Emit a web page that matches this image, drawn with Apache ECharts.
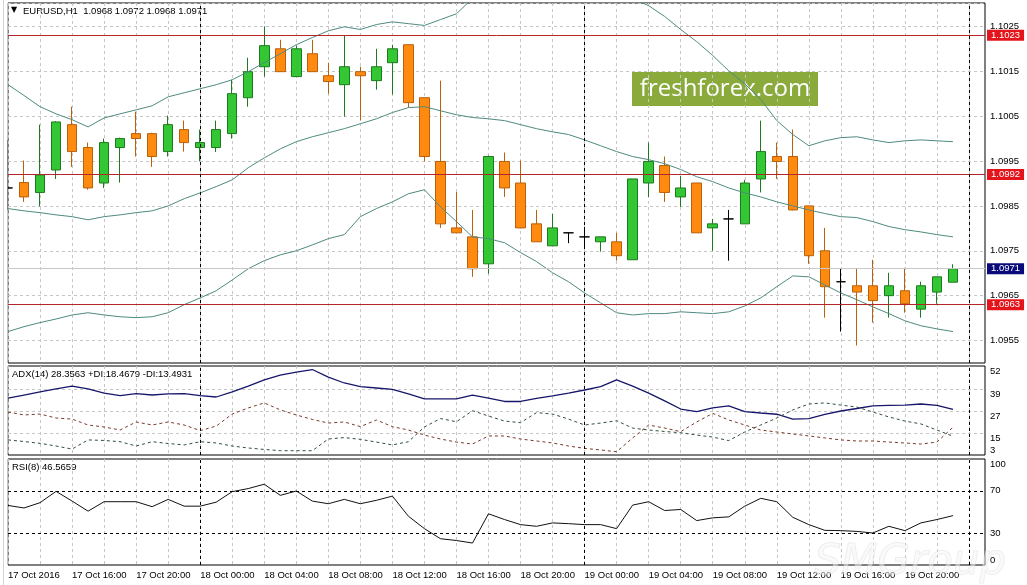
<!DOCTYPE html>
<html><head><meta charset="utf-8">
<script src="https://cdn.jsdelivr.net/npm/echarts@6/dist/echarts.min.js"></script>
<style>html,body{margin:0;padding:0;background:#fff}#c{width:1027px;height:585px}</style>
</head><body><div id="c"></div>
<script>
// ---- categories / tick labels ----
const tickLabels = ['17 Oct 2016','17 Oct 16:00','17 Oct 20:00','18 Oct 00:00','18 Oct 04:00','18 Oct 08:00','18 Oct 12:00','18 Oct 16:00','18 Oct 20:00','19 Oct 00:00','19 Oct 04:00','19 Oct 08:00','19 Oct 12:00','19 Oct 16:00','19 Oct 20:00'];
const categories = [];
for (let i = 0; i < 62; i++) { const h = 12 + i; categories.push((17 + Math.floor(h / 24)) + ' Oct ' + String(h % 24).padStart(2, '0') + ':00'); }
const daySeparators = [12, 36, 60];

// ---- EURUSD H1 candles ----
const opens  = [1.09890,1.09902,1.09880,1.09930,1.10031,1.09980,1.09901,1.09980,1.10011,1.10011,1.09971,1.10020,1.09980,1.09980,1.10011,1.10091,1.10160,1.10200,1.10138,1.10189,1.10140,1.10120,1.10149,1.10129,1.10169,1.10209,1.10091,1.09949,1.09801,1.09781,1.09721,1.09949,1.09901,1.09810,1.09761,1.09790,1.09781,1.09770,1.09770,1.09730,1.09901,1.09940,1.09870,1.09901,1.09801,1.09821,1.09810,1.09910,1.09960,1.09960,1.09850,1.09750,1.09681,1.09672,1.09672,1.09650,1.09661,1.09620,1.09658,1.09680];
const highs  = [1.09997,1.09951,1.10031,1.10039,1.10071,1.09991,1.10000,1.10002,1.10060,1.10013,1.10051,1.10040,1.10020,1.10040,1.10131,1.10180,1.10250,1.10220,1.10207,1.10220,1.10169,1.10230,1.10160,1.10200,1.10209,1.10210,1.10091,1.10129,1.09881,1.09841,1.09962,1.09969,1.09951,1.09841,1.09832,1.09790,1.09803,1.09781,1.09790,1.09910,1.09991,1.09960,1.09917,1.09901,1.09821,1.09841,1.09908,1.10040,1.09991,1.10020,1.09850,1.09801,1.09710,1.09710,1.09730,1.09701,1.09712,1.09681,1.09692,1.09720];
const lows   = [1.09841,1.09859,1.09849,1.09910,1.09937,1.09886,1.09890,1.09902,1.09960,1.09937,1.09960,1.09971,1.09949,1.09970,1.10000,1.10071,1.10138,1.10149,1.10138,1.10149,1.10100,1.10049,1.10040,1.10109,1.10098,1.10069,1.09949,1.09801,1.09790,1.09692,1.09699,1.09870,1.09800,1.09770,1.09760,1.09767,1.09757,1.09748,1.09728,1.09730,1.09870,1.09859,1.09848,1.09790,1.09750,1.09728,1.09810,1.09880,1.09910,1.09840,1.09721,1.09601,1.09570,1.09539,1.09590,1.09601,1.09612,1.09601,1.09632,1.09680];
const closes = [1.09890,1.09870,1.09919,1.10037,1.09971,1.09890,1.09991,1.10000,1.10000,1.09960,1.10031,1.09991,1.09991,1.10020,1.10100,1.10149,1.10207,1.10149,1.10200,1.10149,1.10127,1.10160,1.10140,1.10160,1.10200,1.10080,1.09960,1.09810,1.09790,1.09710,1.09960,1.09890,1.09801,1.09770,1.09801,1.09790,1.09781,1.09781,1.09739,1.09910,1.09949,1.09880,1.09890,1.09790,1.09810,1.09821,1.09901,1.09971,1.09949,1.09841,1.09739,1.09670,1.09681,1.09658,1.09639,1.09672,1.09632,1.09672,1.09692,1.09710];

// ---- Bollinger bands ----
const bbUpper  = [1.10120,1.10096,1.10071,1.10055,1.10042,1.10026,1.10046,1.10055,1.10064,1.10073,1.10093,1.10102,1.10111,1.10120,1.10131,1.10149,1.10169,1.10189,1.10209,1.10225,1.10240,1.10249,1.10243,1.10254,1.10260,1.10256,1.10252,1.10265,1.10278,1.10312,1.10312,1.10312,1.10316,1.10318,1.10330,1.10336,1.10339,1.10334,1.10330,1.10312,1.10296,1.10272,1.10243,1.10216,1.10185,1.10151,1.10122,1.10087,1.10040,1.10009,1.09984,1.09995,1.10002,1.10004,1.09997,1.09991,1.09995,1.09997,1.09995,1.09993];
const bbMiddle = [1.09844,1.09839,1.09835,1.09830,1.09826,1.09819,1.09826,1.09830,1.09835,1.09839,1.09850,1.09866,1.09879,1.09893,1.09908,1.09935,1.09957,1.09977,1.09993,1.10004,1.10013,1.10022,1.10033,1.10044,1.10058,1.10069,1.10071,1.10062,1.10053,1.10047,1.10044,1.10040,1.10031,1.10022,1.10015,1.10009,1.09997,1.09984,1.09971,1.09960,1.09953,1.09944,1.09931,1.09915,1.09904,1.09890,1.09879,1.09870,1.09859,1.09850,1.09841,1.09833,1.09826,1.09824,1.09815,1.09804,1.09797,1.09792,1.09786,1.09781];
const bbLower  = [1.09570,1.09581,1.09590,1.09598,1.09607,1.09612,1.09607,1.09603,1.09601,1.09603,1.09612,1.09630,1.09645,1.09661,1.09685,1.09710,1.09728,1.09741,1.09750,1.09763,1.09777,1.09786,1.09826,1.09844,1.09859,1.09877,1.09886,1.09848,1.09815,1.09781,1.09777,1.09768,1.09746,1.09726,1.09701,1.09681,1.09656,1.09634,1.09612,1.09607,1.09610,1.09610,1.09614,1.09612,1.09610,1.09614,1.09627,1.09645,1.09670,1.09694,1.09692,1.09674,1.09656,1.09641,1.09625,1.09610,1.09594,1.09583,1.09576,1.09570];

// ---- horizontal levels ----
const redLevels = [1.1023, 1.0992, 1.0963];
const bidPrice = 1.0971;

// ---- ADX(14) ----
const adx     = [34.7,36.4,38.1,39.8,41.4,39.8,37.5,36.1,37.2,36.4,37.0,37.2,36.1,35.3,38.1,41.4,44.8,47.5,49.2,50.6,46.4,43.1,41.1,40.3,39.5,37.0,34.2,34.2,34.2,36.4,34.7,32.8,32.8,34.5,35.9,37.5,39.2,41.1,44.8,41.4,37.5,33.1,28.6,27.2,29.2,30.3,27.2,26.4,25.7,23.0,23.3,25.6,27.5,28.9,30.3,30.6,30.8,31.4,30.6,28.36];
const plusDI  = [26.9,25.3,25.8,23.6,23.0,19.7,18.6,16.9,21.4,19.7,21.4,19.7,16.6,19.1,25.8,29.2,32.0,28.1,25.3,22.8,20.8,21.4,18.8,22.5,18.8,16.9,14.1,11.9,10.2,9.1,13.6,13.6,11.9,10.8,9.7,8.0,6.7,5.8,4.8,12.5,19.7,18.0,16.0,21.4,26.2,22.5,19.7,16.9,15.8,14.7,13.6,12.5,11.4,10.8,10.8,10.2,9.7,9.1,10.2,18.47];
const minusDI = [11.4,10.5,9.5,8.0,6.3,11.4,11.1,10.4,8.0,10.4,9.4,8.6,10.4,9.7,8.0,6.9,6.1,5.4,5.4,5.4,11.9,12.7,11.7,10.2,8.6,10.4,18.6,23.3,21.5,27.7,24.7,21.9,21.0,26.6,25.8,23.0,19.7,20.8,22.1,18.0,16.9,16.1,15.4,14.1,13.0,11.0,15.8,19.7,23.6,28.1,31.4,32.0,30.8,29.7,26.9,24.2,21.9,20.3,16.9,13.49];
const adxTicks = [3, 15, 27, 39, 52];

// ---- RSI(8) ----
const rsi = [56.2,53.8,58.8,69.5,60.3,50.8,59.7,59.7,59.7,55.0,61.9,55.5,55.5,59.3,69.2,72.1,76.2,65.7,69.8,60.3,57.8,61.9,57.8,61.0,65.0,46.0,34.3,24.8,23.1,20.7,48.3,42.9,38.1,36.5,39.7,39.0,38.1,38.1,34.3,56.5,59.7,51.4,52.4,41.9,44.5,45.4,55.5,62.9,59.7,45.0,38.1,32.7,32.4,31.7,30.2,36.5,32.4,39.7,42.9,46.57];
const rsiLevels = [30, 70];
const rsiTicks = [0, 30, 70, 100];

// ---------------------------------------------------------------
const FONT = 'Liberation Sans';
const GRID_C = '#c6c6c6';
const candleData = opens.map((o, i) => [o, closes[i], lows[i], highs[i]]);
const sepLines = daySeparators.map(i => ({ xAxis: categories[i] }));
const sepStyle = { color: '#000', type: [3, 3], width: 1 };
const levelLabel = (bg) => ({ show: true, position: 'end', distance: 2, formatter: p => Number(p.value).toFixed(4), color: '#fff', backgroundColor: bg,
  padding: [1, 4, 0, 4], fontSize: 9.5, fontFamily: FONT });

function xAx(g, showLabel) {
  return { type: 'category', gridIndex: g, data: categories, boundaryGap: false,
    axisLine: { show: false }, axisTick: { show: false },
    axisLabel: { show: showLabel, interval: 3, align: 'left', margin: 5, color: '#000', fontSize: 9.5, fontFamily: FONT,
      formatter: (v, idx) => (idx % 4 === 0 && tickLabels[idx / 4]) ? tickLabels[idx / 4] : '' },
    splitLine: { show: true, interval: 1, lineStyle: { color: GRID_C, type: [3, 3], width: 1 } } };
}

const chart = echarts.init(document.getElementById('c'), null, { renderer: 'canvas' });
chart.setOption({
  animation: false,
  backgroundColor: '#fff',
  grid: [
    { left: 8, right: 42, top: 3, height: 360, show: true, borderColor: '#000', borderWidth: 1, backgroundColor: '#fff' },
    { left: 8, right: 42, top: 366, height: 89, show: true, borderColor: '#000', borderWidth: 1 },
    { left: 8, right: 42, top: 459, height: 106, show: true, borderColor: '#000', borderWidth: 1 }
  ],
  xAxis: [xAx(0, false), xAx(1, false), xAx(2, true)],
  yAxis: [
    { type: 'value', gridIndex: 0, position: 'right', min: 1.0950, max: 1.10302, interval: 0.0005,
      axisLine: { show: false }, axisTick: { show: false },
      axisLabel: { color: '#000', fontSize: 9.5, fontFamily: FONT, margin: 5,
        formatter: v => (Math.round(v * 10000) % 10 === 5) ? v.toFixed(4) : '' },
      splitLine: { show: true, lineStyle: { color: ['transparent', GRID_C], type: [3, 3], width: 1 } } },
    { type: 'value', gridIndex: 1, position: 'right', min: 3, max: 52.56, interval: 12.25,
      axisLine: { show: false }, axisTick: { show: false },
      axisLabel: { color: '#000', fontSize: 9.5, fontFamily: FONT, margin: 5, showMinLabel: true, showMaxLabel: true,
        verticalAlign: 'top', verticalAlignMinLabel: 'bottom', verticalAlignMaxLabel: 'top',
        formatter: v => { const t = adxTicks.find(a => Math.abs(a - v) < 0.8); return t === undefined ? '' : String(t); } },
      splitLine: { show: true, lineStyle: { color: ['transparent', GRID_C, GRID_C, GRID_C, 'transparent', 'transparent'], type: [3, 3], width: 1 } } },
    { type: 'value', gridIndex: 2, position: 'right', min: 0, max: 100, interval: 10,
      axisLine: { show: false }, axisTick: { show: false },
      axisLabel: { color: '#000', fontSize: 9.5, fontFamily: FONT, margin: 5, showMinLabel: true, showMaxLabel: true,
        verticalAlign: 'middle', verticalAlignMinLabel: 'bottom', verticalAlignMaxLabel: 'top',
        formatter: v => rsiTicks.includes(Math.round(v)) ? String(Math.round(v)) : '' },
      splitLine: { show: false } }
  ],
  series: [
    { type: 'candlestick', xAxisIndex: 0, yAxisIndex: 0, data: candleData, barWidth: 10, clip: true,
      itemStyle: { color: '#33c733', color0: '#ff8a10', borderColor: '#1d7a1d', borderColor0: '#b8600a', borderColorDoji: '#000', borderWidth: 1 } },
    { type: 'line', xAxisIndex: 0, yAxisIndex: 0, data: bbUpper, symbol: 'none', silent: true, z: 3, lineStyle: { color: '#4f8a80', width: 1 } },
    { type: 'line', xAxisIndex: 0, yAxisIndex: 0, data: bbMiddle, symbol: 'none', silent: true, z: 3, lineStyle: { color: '#4f8a80', width: 1 },
      markLine: { silent: true, symbol: 'none', animation: false, precision: 5, emphasis: { disabled: true },
        data: [
          ...redLevels.map(v => ({ yAxis: v, lineStyle: { color: '#b3262a', type: 'solid', width: 1 }, label: levelLabel('#e4141b') })),
          { yAxis: bidPrice, lineStyle: { color: '#c8c8c8', type: 'solid', width: 1 }, label: levelLabel('#0a0a7a') },
          ...sepLines.map(d => ({ xAxis: d.xAxis, lineStyle: sepStyle, label: { show: false } }))
        ] } },
    { type: 'line', xAxisIndex: 0, yAxisIndex: 0, data: bbLower, symbol: 'none', silent: true, z: 3, lineStyle: { color: '#4f8a80', width: 1 } },

    { type: 'line', xAxisIndex: 1, yAxisIndex: 1, data: adx, symbol: 'none', silent: true, lineStyle: { color: '#16166a', width: 1.3 },
      markLine: { silent: true, symbol: 'none', animation: false, emphasis: { disabled: true }, label: { show: false },
        data: sepLines.map(d => ({ xAxis: d.xAxis, lineStyle: sepStyle })) } },
    { type: 'line', xAxisIndex: 1, yAxisIndex: 1, data: plusDI, symbol: 'none', silent: true, lineStyle: { color: '#7a3a2a', width: 1, type: [3, 3] } },
    { type: 'line', xAxisIndex: 1, yAxisIndex: 1, data: minusDI, symbol: 'none', silent: true, lineStyle: { color: '#2f4f3a', width: 1, type: [3, 3] } },

    { type: 'line', xAxisIndex: 2, yAxisIndex: 2, data: rsi, symbol: 'none', silent: true, lineStyle: { color: '#111', width: 1 },
      markLine: { silent: true, symbol: 'none', animation: false, emphasis: { disabled: true }, label: { show: false },
        data: [...rsiLevels.map(v => ({ yAxis: v, lineStyle: sepStyle })),
               ...sepLines.map(d => ({ xAxis: d.xAxis, lineStyle: sepStyle }))] } }
  ],
  graphic: [
    { type: 'rect', left: 0, top: 0, z: 90, silent: true, shape: { width: 7.5, height: 585 }, style: { fill: '#fff' } },
    { type: 'rect', left: 3, top: 0, z: 91, silent: true, shape: { width: 1, height: 585 }, style: { fill: '#d4d4d4' } },
    { type: 'text', left: 11, top: 6, silent: true, style: { text: '▼', fontSize: 8, fontFamily: 'DejaVu Sans', fill: '#000' } },
    { type: 'text', left: 23, top: 6, silent: true, style: { text: 'EURUSD,H1  1.0968 1.0972 1.0968 1.0971', fontSize: 9.5, fontFamily: FONT, fill: '#000' } },
    { type: 'text', left: 12, top: 369, silent: true, style: { text: 'ADX(14) 28.3563 +DI:18.4679 -DI:13.4931', fontSize: 9.5, fontFamily: FONT, fill: '#000' } },
    { type: 'text', left: 12, top: 462, silent: true, style: { text: 'RSI(8) 46.5659', fontSize: 9.5, fontFamily: FONT, fill: '#000' } },
    { type: 'group', left: 632, top: 72, silent: true, z: 100, children: [
      { type: 'rect', shape: { x: 0, y: 0, width: 186, height: 34 }, style: { fill: '#8aab3c' } },
      { type: 'text', x: 93, y: 17, style: { text: 'freshforex.com', fontSize: 24, fontFamily: 'Open Sans', fill: '#fff', align: 'center', verticalAlign: 'middle' } }
    ] },
    { type: 'text', left: 814, top: 542, silent: true, z: 100, style: { text: 'SMGroup', fontSize: 42, fontStyle: 'italic', fontFamily: 'DejaVu Sans', fill: 'rgba(245,245,245,0.5)', stroke: 'rgba(200,200,200,0.35)', lineWidth: 1 } }
  ]
});
</script>
</body></html>
